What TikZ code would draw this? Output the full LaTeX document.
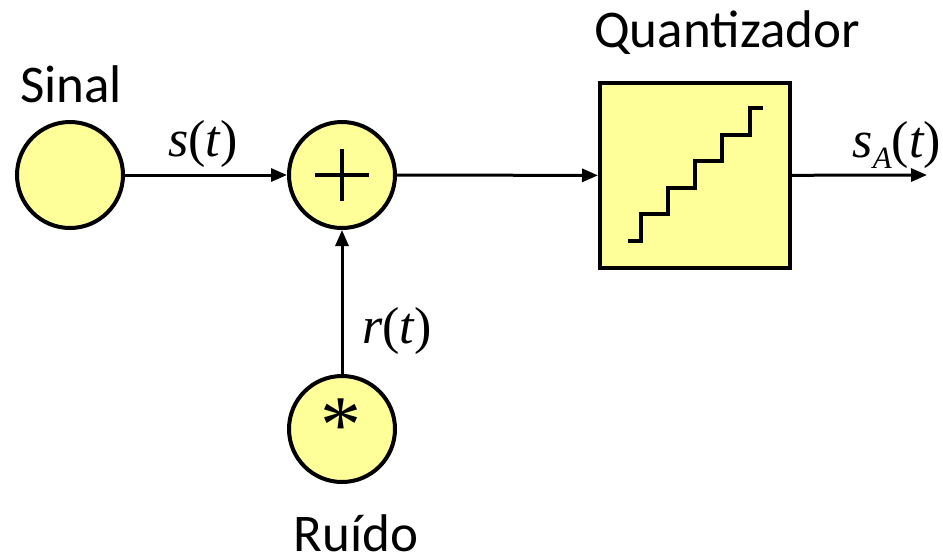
\documentclass[tikz,border=0pt]{standalone}
\usepackage{fontspec}
\setmainfont{Carlito}
\newfontfamily\tms{Liberation Serif}
\usetikzlibrary{arrows.meta}
\definecolor{blockfill}{HTML}{FFFF99}
\tikzset{
  blk/.style={draw=black, line width=4pt, fill=blockfill},
  circ/.style={blk, circle, minimum size=106pt, inner sep=0pt},
  conn/.style={line width=3pt, -{Triangle[length=16pt,width=13pt]}},
  plain/.style={line width=3.2pt},
  lbl/.style={font=\fontsize{53}{60}\selectfont, inner sep=0pt, anchor=base},
  mlbl/.style={font=\fontsize{52}{58}\selectfont\tms, inner sep=0pt, anchor=base}
}
\begin{document}
\begin{tikzpicture}[x=1pt,y=-1pt]
\useasboundingbox (0,0) rectangle (943,558);
\node[circ] (sig) at (70,175) {};
\node[circ] (sum) at (342,175) {};
\node[circ] (noi) at (342,429) {};
\node[blk, minimum width=190pt, minimum height=185pt, inner sep=0pt] (q) at (695,175.5) {};
\coordinate (out) at (927,175);
% plus sign
\draw[plain] ([xshift=-27pt]sum.center) -- ([xshift=27pt]sum.center);
\draw[plain] ([yshift=-26pt]sum.center) -- ([yshift=26pt]sum.center);
% asterisk
\node[font=\fontsize{82}{82}\selectfont\tms, inner sep=0pt, anchor=base] (ast) at (341,452) {*};
% staircase
\draw[line width=3.5pt] (628,241) -- (641,241) -- (641,214) -- (668,214) -- (668,188) -- (695,188) -- (695,161) -- (722,161) -- (722,135) -- (750,135) -- (750,108) -- (763,108);
% connectors
\draw[conn] (sig) -- (sum);
\draw[conn] (sum) -- (q);
\draw[conn] (noi) -- (sum);
\draw[conn] (q) -- (out);
% labels
\node[lbl] (tsig) at (71,102) {Sinal};
\node[lbl] (tq) at (727,47) {Quantizador};
\node[lbl] (tn) at (356,551) {Ruído};
\node[mlbl] (ls) at (203,156) {\itshape s\upshape(\itshape t\upshape)};
\node[mlbl] (lr) at (397,343) {\itshape r\upshape(\itshape t\upshape)};
\node[mlbl, anchor=base east] (lsa) at (941,157) {\itshape s\raisebox{-11pt}{\fontsize{31}{31}\selectfont A}\upshape(\itshape t\upshape)};
\end{tikzpicture}
\end{document}
